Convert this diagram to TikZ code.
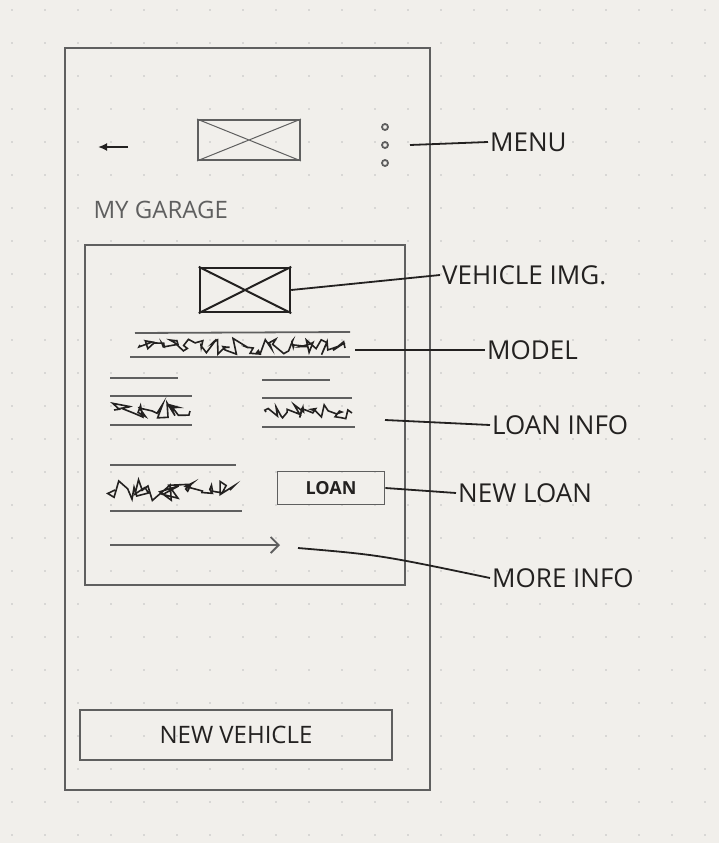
\documentclass[tikz,border=0pt]{standalone}
\usepackage{fontspec}
\setmainfont{Open Sans}
\usetikzlibrary{decorations.pathmorphing,arrows.meta}
\definecolor{paper}{RGB}{241,239,235}
\definecolor{pencil}{RGB}{95,95,95}
\definecolor{ink}{RGB}{35,33,32}
\begin{document}
\begin{tikzpicture}[x=1pt,y=-1pt,
  pen/.style={draw=pencil,line width=1.8pt},
  inkl/.style={draw=ink,line width=1.8pt},
  lbl/.style={font=\fontsize{26}{30}\selectfont,text=ink,inner sep=2pt},
  scrib/.style={draw=ink,line width=1.6pt,decoration={random steps,segment length=3pt,amplitude=8pt},decorate},
  box/.style={pen,inner sep=0pt}]
\fill[paper] (0,0) rectangle (719,843);
\useasboundingbox (0,0) rectangle (719,843);
\foreach \i in {0,...,21}{\foreach \j in {0,...,25}{
  \fill[black!25] (12+33*\i,10+33*\j) circle (0.9pt);}}
% phone frame
\node[box,minimum width=365pt,minimum height=742pt] (phone) at (247.5,419) {};
\draw[ink,line width=2.2pt,-{Latex[length=9pt,width=8pt]}] (128,147) -- (98,147);
\node[box,minimum width=102pt,minimum height=40pt] (logo) at (249,140) {};
\draw[pencil,line width=1pt] (logo.north west) -- (logo.south east) (logo.south west) -- (logo.north east);
\foreach \y in {127,145,163}{\draw[pencil,line width=1.8pt] (385,\y) circle (3pt);}
\coordinate (dots) at (410,145);
\node[lbl,anchor=west] (menu) at (488,142) {MENU};
\draw[inkl] (dots) -- (menu.west);
\node[font=\fontsize{24}{28}\selectfont,text=pencil,anchor=west] (garage) at (90,210) {MY GARAGE};
% card
\node[box,minimum width=320pt,minimum height=340pt] (card) at (245,415) {};
\node[draw=ink,line width=2.4pt,minimum width=90pt,minimum height=44pt,inner sep=0pt] (vimg) at (245,290) {};
\draw[ink,line width=2pt] (vimg.north west) -- (vimg.south east) (vimg.south west) -- (vimg.north east);
\node[lbl,anchor=west] (vlbl) at (440,275) {VEHICLE IMG.};
\draw[inkl] (vimg.east) -- (vlbl.west);
% model
\draw[pen] (135,333) -- (350,332);
\draw[scrib] (140,345) -- (345,348);
\draw[pen] (130,357) -- (350,357);
\coordinate (model) at (355,350);
\node[lbl,anchor=west] (mlbl) at (485,350) {MODEL};
\draw[inkl] (model) -- (mlbl.west);
% loan info
\draw[pen] (110,378) -- (178,378);
\draw[pen] (110,396) -- (192,396);
\draw[scrib] (114,410) -- (190,411);
\draw[pen] (110,425) -- (192,425);
\draw[pen] (262,380) -- (330,380);
\draw[pen] (262,398) -- (352,398);
\draw[scrib] (266,412) -- (352,413);
\draw[pen] (262,427) -- (355,427);
\coordinate (linfo) at (385,420);
\node[lbl,anchor=west] (llbl) at (490,425) {LOAN INFO};
\draw[inkl] (linfo) -- (llbl.west);
% new loan
\draw[pen] (110,465) -- (236,465);
\draw[scrib,decoration={random steps,segment length=3pt,amplitude=11pt}] (115,490) -- (230,490);
\draw[pen] (110,511) -- (242,511);
\node[box,minimum width=107pt,minimum height=33pt,font=\fontsize{18}{20}\selectfont\bfseries,text=ink] (loan) at (331,488) {LOAN};
\node[lbl,anchor=west] (nlbl) at (456,493) {NEW LOAN};
\draw[inkl] (loan.east) -- (nlbl.west);
% more info
\draw[pen,-{Straight Barb[length=8pt]}] (110,545) -- (280,545);
\coordinate (more) at (298,548);
\node[lbl,anchor=west] (molbl) at (490,578) {MORE INFO};
\draw[inkl] (more) .. controls (380,555) .. (molbl.west);
% new vehicle
\node[box,minimum width=312pt,minimum height=50pt,font=\fontsize{24}{28}\selectfont,text=ink] (nv) at (236,735) {NEW VEHICLE};
\end{tikzpicture}
\end{document}
